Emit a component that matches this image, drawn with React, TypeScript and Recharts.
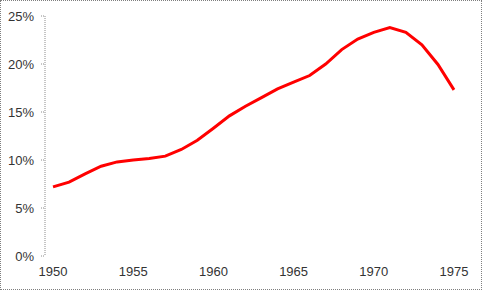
import { LineChart, Line, XAxis, YAxis } from "recharts";

const years = [
  1950, 1951, 1952, 1953, 1954, 1955, 1956, 1957, 1958, 1959, 1960, 1961, 1962,
  1963, 1964, 1965, 1966, 1967, 1968, 1969, 1970, 1971, 1972, 1973, 1974, 1975,
];
const shares = [
  7.2, 7.7, 8.55, 9.35, 9.8, 10.0, 10.15, 10.4, 11.1, 12.05, 13.3, 14.6, 15.6,
  16.5, 17.4, 18.1, 18.8, 20.0, 21.5, 22.6, 23.3, 23.8, 23.3, 22.0, 19.95, 17.3,
];
const yearLabels = [1950, 1955, 1960, 1965, 1970, 1975];
const yearMarks = [1949.5, 1954.5, 1959.5, 1964.5, 1969.5, 1974.5];
const pctTicks = [0, 5, 10, 15, 20, 25];

const data = years.map((year, i) => ({ year, share: shares[i] }));

const AXIS = "#8c8c8c";
const TICK = { fontSize: 13, fill: "#333333", fontFamily: "Liberation Sans" };

export default function App() {
  return (
    <div
      style={{
        position: "fixed",
        left: 0,
        top: 0,
        width: 482,
        height: 290,
        boxSizing: "border-box",
        border: "1px dotted #7f7f7f",
        background: "#fff",
      }}
    >
      <LineChart width={480} height={288} data={data} margin={{ top: 15, right: 19, bottom: 0, left: 0 }}>
        {/* tick marks sit between categories, labels on them */}
        <XAxis
          xAxisId="marks"
          dataKey="year"
          type="number"
          domain={[1949.5, 1975.5]}
          ticks={yearMarks}
          tick={false}
          tickSize={4}
          height={0}
          stroke={AXIS}
          strokeDasharray="1 1"
        />
        <XAxis
          xAxisId="labels"
          dataKey="year"
          type="number"
          domain={[1949.5, 1975.5]}
          ticks={yearLabels}
          axisLine={false}
          tickLine={false}
          tickSize={4}
          tickMargin={7}
          height={33}
          tick={TICK}
        />
        <YAxis
          width={44}
          domain={[0, 25]}
          ticks={pctTicks}
          tickFormatter={(v) => `${v}%`}
          tickSize={4}
          tickMargin={7}
          stroke={AXIS}
          strokeDasharray="1 1"
          tick={TICK}
        />
        <Line
          xAxisId="labels"
          type="linear"
          dataKey="share"
          stroke="#ff0000"
          strokeWidth={3}
          dot={false}
          isAnimationActive={false}
        />
      </LineChart>
    </div>
  );
}
